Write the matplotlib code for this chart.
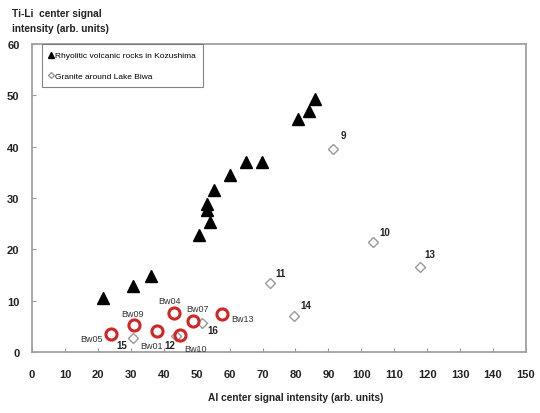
import matplotlib.pyplot as plt

plt.rcParams['font.family'] = ['Liberation Sans', 'DejaVu Sans']

# Rhyolitic volcanic rocks in Kozushima
rhy_x = [21.5, 30.6, 36.0, 50.6, 53.0, 53.2, 54.1, 55.2, 60.1, 65.1, 69.8, 80.7, 84.2, 85.9]
rhy_y = [10.6, 12.8, 14.8, 22.9, 27.7, 28.8, 25.3, 31.6, 34.4, 37.0, 37.0, 45.5, 46.9, 49.3]

# Granite around Lake Biwa
gra_labels = ['9', '10', '13', '11', '14', '16', '15', '12']
gra_x = [91.5, 103.7, 117.8, 72.3, 79.7, 51.6, 30.6, 43.6]
gra_y = [39.6, 21.5, 16.6, 13.4, 7.0, 5.6, 2.7, 3.2]

# Bw samples
bw_labels = ['Bw05', 'Bw09', 'Bw01', 'Bw04', 'Bw10', 'Bw07', 'Bw13']
bw_x = [23.9, 31.0, 38.0, 43.2, 44.9, 49.0, 57.6]
bw_y = [3.6, 5.3, 4.1, 7.7, 3.3, 6.1, 7.5]

gra_offsets = {'9': (5, 8), '10': (4, 5), '13': (3, 7), '11': (4, 5.5), '14': (4.5, 5.5),
               '16': (4, -7), '15': (-12, -7), '12': (-8, -9)}
bw_offsets = {'Bw05': (-22, -5.5), 'Bw09': (-9, 6), 'Bw01': (-12, -12), 'Bw04': (-11.5, 6.5),
              'Bw10': (3, -11.5), 'Bw07': (-5, 7), 'Bw13': (7, -5.5)}

fig = plt.figure(figsize=(5.4, 4.14), dpi=100)
ax = fig.add_axes([0.0593, 0.1473, 0.9147, 0.7437])

ax.plot(rhy_x, rhy_y, linestyle='none', marker='^', color='black', markersize=8,
        label='Rhyolitic volcanic rocks in Kozushima')
ax.plot(gra_x, gra_y, linestyle='none', marker='D', markerfacecolor='white',
        markeredgecolor='#999999', markersize=5.5, markeredgewidth=1,
        label='Granite around Lake Biwa')
ax.plot(bw_x, bw_y, linestyle='none', marker='o', markerfacecolor='none',
        markeredgecolor='#d02626', markersize=8, markeredgewidth=2.2)

for lab, x, y in zip(gra_labels, gra_x, gra_y):
    ax.annotate(lab, (x, y), xytext=gra_offsets[lab], textcoords='offset points',
                fontsize=7, fontweight='bold', color='#222222')
for lab, x, y in zip(bw_labels, bw_x, bw_y):
    ax.annotate(lab, (x, y), xytext=bw_offsets[lab], textcoords='offset points',
                fontsize=6.5, color='#333333')

ax.set_xlim(0, 150)
ax.set_ylim(0, 60)
ax.set_xticks(range(0, 151, 10))
ax.set_yticks(range(0, 61, 10))
ax.tick_params(direction='in', length=3, color='#999999', labelsize=8)
ax.tick_params(axis='x', pad=12)
ax.tick_params(axis='y', pad=9)
for t in ax.get_xticklabels() + ax.get_yticklabels():
    t.set_fontweight('bold')
    t.set_color('#222222')
for s in ax.spines.values():
    s.set_color('#a0a0a0')
    s.set_linewidth(1.3)

leg = ax.legend(loc='upper left', bbox_to_anchor=(0.02, 1.0), borderaxespad=0, fontsize=6,
                frameon=True, fancybox=False, handlelength=0.5, handletextpad=0.2,
                borderpad=0.9, labelspacing=1.5, markerscale=0.55)
leg.get_frame().set_edgecolor('#666666')
leg.get_frame().set_linewidth(0.8)

fig.text(0.022, 0.918, 'Ti-Li  center signal\nintensity (arb. units)', fontsize=7.3,
         fontweight='bold', color='#222222', va='bottom', linespacing=1.6)
fig.text(0.547, 0.039, 'Al center signal intensity (arb. units)', fontsize=7.3,
         fontweight='bold', color='#222222', ha='center', va='center')

fig.savefig('out.png', dpi=100)
